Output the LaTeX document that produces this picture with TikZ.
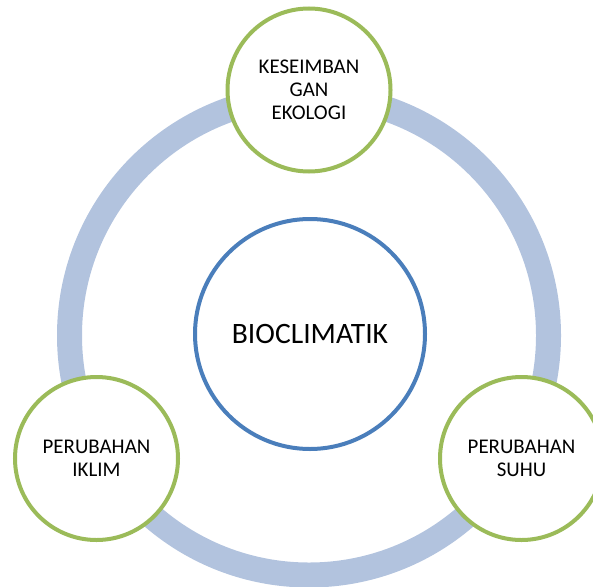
\documentclass[tikz,border=0pt]{standalone}
\usepackage{fontspec}
\setmainfont{Carlito}
\definecolor{ringc}{RGB}{178,195,222}
\definecolor{bluec}{RGB}{74,126,187}
\definecolor{greenc}{RGB}{155,187,89}
\begin{document}
\begin{tikzpicture}[x=1pt,y=-1pt,
  outer/.style={circle,draw=greenc,line width=4pt,fill=white,minimum size=163pt,inner sep=0pt,
    font=\fontsize{20.9}{23}\selectfont,align=center,text=black},
  core/.style={circle,draw=bluec,line width=4pt,fill=white,minimum size=230pt,inner sep=0pt,
    font=\fontsize{29.6}{33}\selectfont,text=black}]
\useasboundingbox (0,0) rectangle (593,586);
\clip (0,0) rectangle (593,586);
\coordinate (c) at (309,335.5);
\draw[ringc,line width=25pt] (c) circle[radius=239.5];
\node[core] (bio) at (310,334) {BIOCLIMATIK};
\node[outer] (kes) at (309,90) {KESEIMBAN\\GAN\\EKOLOGI};
\node[outer] (ikl) at (96.5,458.5) {PERUBAHAN\\IKLIM};
\node[outer] (suh) at (521.5,458.5) {PERUBAHAN\\SUHU};
\end{tikzpicture}
\end{document}
